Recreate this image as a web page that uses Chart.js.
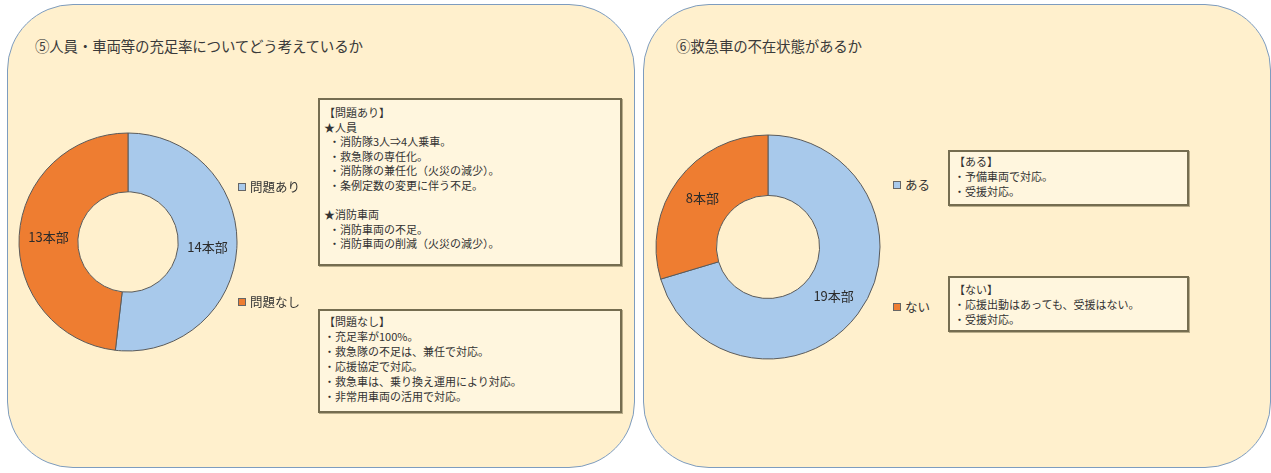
<!DOCTYPE html>
<html lang="ja">
<head>
<meta charset="utf-8">
<script src="https://cdn.jsdelivr.net/npm/chart.js@4/dist/chart.umd.min.js"></script>
<style>
  html, body { margin:0; padding:0; width:1271px; height:473px; background:#ffffff; overflow:hidden; }
  body { position:relative; font-family:"Noto Sans CJK JP", "Noto Sans", sans-serif; color:#333; }
  .panel { position:absolute; top:4px; height:464px; background:#fff0cd; border:1.5px solid #7d9cbf; border-radius:66px; box-sizing:border-box; }
  .title { position:absolute; font-size:14.5px; color:#3a3a3a; white-space:nowrap; letter-spacing:-0.2px; }
  .box { position:absolute; background:#fff6de; border:2px solid #756d50; box-shadow:1px 1px 0 #b9ad8a; box-sizing:border-box; font-size:11px; color:#333; white-space:pre; }
  .box div { height:14.6px; line-height:14.6px; }
  .leg { position:absolute; font-size:12.5px; color:#333; white-space:nowrap; line-height:14px; }
  .leg i { display:inline-block; width:6px; height:6px; border:1px solid #666; margin-right:4px; vertical-align:1px; }
  canvas { position:absolute; }
</style>
</head>
<body>
<div class="panel" style="left:7px; width:628px;"></div>
<div class="panel" style="left:643px; width:628px;"></div>

<div class="title" id="title1" style="left:35px; top:35px;"></div>
<div class="title" id="title2" style="left:676px; top:35px;"></div>

<canvas id="c1" width="240" height="240" style="left:8px; top:122px;"></canvas>
<canvas id="c2" width="240" height="240" style="left:648px; top:127px;"></canvas>

<div id="legend1"></div>
<div id="legend2"></div>
<div id="boxes"></div>

<script>
// ---- data ----
const title1 = '⑤人員・車両等の充足率についてどう考えているか';
const title2 = '⑥救急車の不在状態があるか';
const categories1 = ['問題あり', '問題なし'];
const values1 = [14, 13];
const categories2 = ['ある', 'ない'];
const values2 = [19, 8];
const unitLabel = '本部';
const sliceColors = ['#a8c9eb', '#ee7d31'];

const note1a = ['【問題あり】', '★人員', '  ・消防隊3人⇒4人乗車。', '  ・救急隊の専任化。', '  ・消防隊の兼任化（火災の減少）。', '  ・条例定数の変更に伴う不足。', '', '★消防車両', '  ・消防車両の不足。', '  ・消防車両の削減（火災の減少）。'];
const note1b = ['【問題なし】', '・充足率が100%。', '・救急隊の不足は、兼任で対応。', '・応援協定で対応。', '・救急車は、乗り換え運用により対応。', '・非常用車両の活用で対応。'];
const note2a = ['【ある】', '・予備車両で対応。', '・受援対応。'];
const note2b = ['【ない】', '・応援出動はあっても、受援はない。', '・受援対応。'];

document.getElementById('title1').textContent = title1;
document.getElementById('title2').textContent = title2;

// ---- text boxes ----
function makeBox(lines, left, top, width, height, padTop, lh) {
  const b = document.createElement('div');
  b.className = 'box';
  b.style.left = left + 'px'; b.style.top = top + 'px';
  b.style.width = width + 'px'; b.style.height = height + 'px';
  b.style.padding = padTop + 'px 0 0 4px';
  lines.forEach(t => {
    const d = document.createElement('div');
    d.textContent = t === '' ? ' ' : t;
    d.style.height = lh + 'px'; d.style.lineHeight = lh + 'px';
    b.appendChild(d);
  });
  document.getElementById('boxes').appendChild(b);
}
makeBox(note1a, 318, 98, 304, 168, 5, 14.6);
makeBox(note1b, 318, 309, 304, 104, 3, 15);
makeBox(note2a, 948, 150, 241, 56, 2, 15);
makeBox(note2b, 948, 276, 241, 56, 4, 15);

// ---- legends ----
function makeLegend(cats, positions, holder) {
  cats.forEach((c, i) => {
    const l = document.createElement('div');
    l.className = 'leg';
    l.style.left = positions[i][0] + 'px'; l.style.top = positions[i][1] + 'px';
    const sq = document.createElement('i');
    sq.style.background = sliceColors[i];
    l.appendChild(sq);
    l.appendChild(document.createTextNode(c));
    document.getElementById(holder).appendChild(l);
  });
}
makeLegend(categories1, [[238, 180], [238, 295]], 'legend1');
makeLegend(categories2, [[893, 178], [893, 300]], 'legend2');

// ---- charts ----
const sliceLabels = {
  id: 'sliceLabels',
  afterDatasetsDraw(chart) {
    const ctx = chart.ctx;
    const ds = chart.data.datasets[0];
    chart.getDatasetMeta(0).data.forEach((arc, i) => {
      const p = arc.tooltipPosition();
      ctx.save();
      ctx.font = '13px "Noto Sans CJK JP", sans-serif';
      ctx.fillStyle = '#2b2b2b';
      ctx.textAlign = 'center';
      ctx.textBaseline = 'middle';
      ctx.fillText(ds.data[i] + unitLabel, p.x, p.y);
      ctx.restore();
    });
  }
};

function makeDonut(id, cats, vals, radius) {
  new Chart(document.getElementById(id), {
    type: 'doughnut',
    data: {
      labels: cats,
      datasets: [{
        data: vals,
        backgroundColor: sliceColors,
        borderColor: '#5a5a5a',
        borderWidth: 1
      }]
    },
    options: {
      responsive: false,
      animation: false,
      radius: radius,
      cutout: 55,
      layout: { padding: 0 },
      plugins: { legend: { display: false }, tooltip: { enabled: false } }
    },
    plugins: [sliceLabels]
  });
}
makeDonut('c1', categories1, values1, 109);
makeDonut('c2', categories2, values2, 112);
</script>
</body>
</html>
